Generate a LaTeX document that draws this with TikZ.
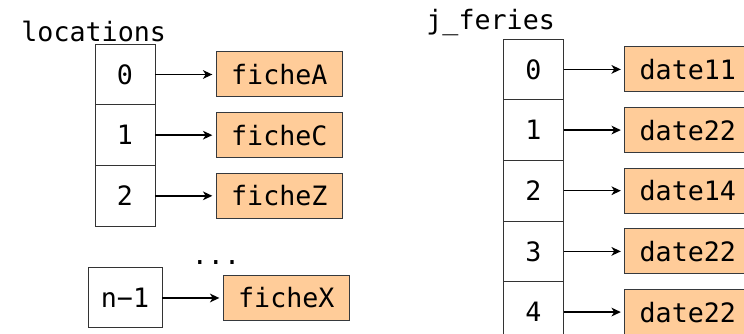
\documentclass[tikz,border=0pt]{standalone}
\usepackage{fontspec}
\setmonofont{DejaVu Sans Mono}
\definecolor{FicheFill}{HTML}{FFCC99}
\definecolor{FicheDraw}{HTML}{36393D}
\usetikzlibrary{positioning, arrows.meta}

\begin{document}
\begin{tikzpicture}[x = 0.75pt, y = -0.75pt,
    every node/.style = {font = \ttfamily\fontsize{20}{24}\selectfont, outer sep = 0pt},
    cell/.style = {draw = black!80, line width = 0.75pt, minimum width = 45pt, minimum height = 45.5pt, inner sep = 0pt},
    fiche/.style = {draw = FicheDraw, fill = FicheFill, line width = 0.75pt, minimum width = 94.5pt, minimum height = 33.75pt, inner sep = 0pt},
    link/.style = {-{Stealth[length = 7pt, width = 6.5pt, inset = 2pt]}, line width = 1.1pt, shorten > = 3pt}]

\useasboundingbox (0, 0) rectangle (744, 334);

% tableau locations
\node[anchor = base west] (locLabel) at (17, 42) {locations};
\node[cell] (loc0) at (125, 74.5) {0};
\node[cell, below = 0pt of loc0] (loc1) {1};
\node[cell, below = 0pt of loc1] (loc2) {2};
\node[cell, minimum width = 55.5pt, minimum height = 45pt] (locN) at (125, 298) {n−1};
\node[anchor = base] (dots) at (216, 265) {...};

\node[fiche, right = 46pt of loc0] (ficheA) {ficheA};
\node[fiche, right = 46pt of loc1] (ficheC) {ficheC};
\node[fiche, right = 46pt of loc2] (ficheZ) {ficheZ};
\node[fiche, right = 46pt of locN] (ficheX) {ficheX};

\draw[link] (loc0) -- (ficheA);
\draw[link] (loc1) -- (ficheC);
\draw[link] (loc2) -- (ficheZ);
\draw[link] (locN) -- (ficheX);

% tableau j_feries
\node[anchor = base west] (ferLabel) at (422, 30) {j\_feries};
\node[cell] (fer0) at (533.5, 69.4) {0};
\node[cell, below = 0pt of fer0] (fer1) {1};
\node[cell, below = 0pt of fer1] (fer2) {2};
\node[cell, below = 0pt of fer2] (fer3) {3};
\node[cell, below = 0pt of fer3] (fer4) {4};

\node[fiche, right = 46pt of fer0] (date0) {date11};
\node[fiche, right = 46pt of fer1] (date1) {date22};
\node[fiche, right = 46pt of fer2] (date2) {date14};
\node[fiche, right = 46pt of fer3] (date3) {date22};
\node[fiche, right = 46pt of fer4] (date4) {date22};

\draw[link] (fer0) -- (date0);
\draw[link] (fer1) -- (date1);
\draw[link] (fer2) -- (date2);
\draw[link] (fer3) -- (date3);
\draw[link] (fer4) -- (date4);

\end{tikzpicture}
\end{document}
